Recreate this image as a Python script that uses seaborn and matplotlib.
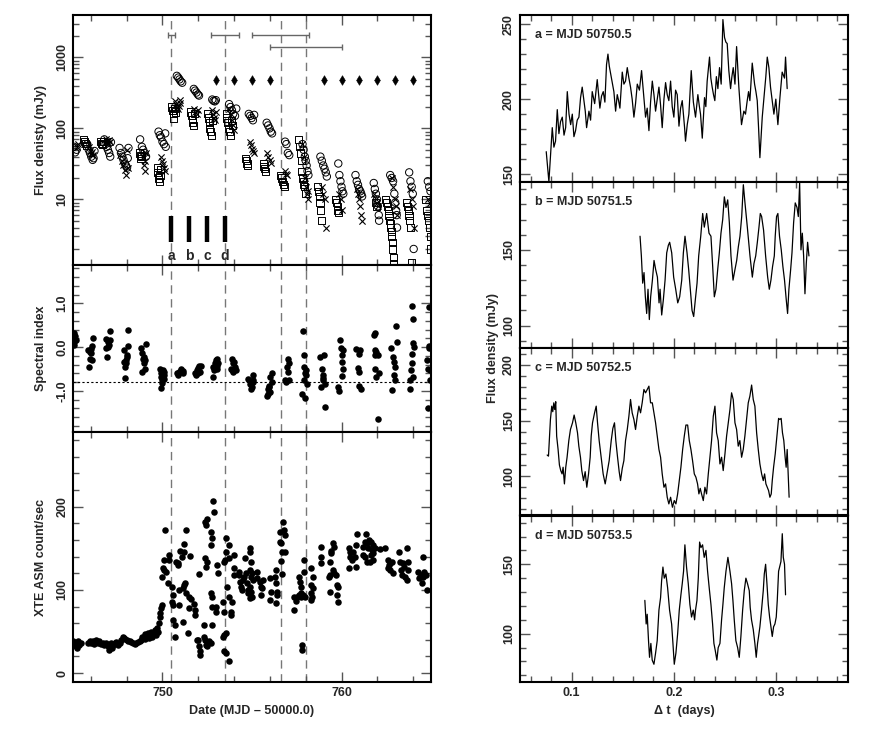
import matplotlib
matplotlib.use('Agg')
import matplotlib.pyplot as plt
import matplotlib.ticker as mticker
import seaborn as sns

# ---------------- data ----------------
# top left: radio flux density, three symbol types
circ_day = [745.05, 745.12, 745.2,
            745.8, 745.88, 745.95, 746.02, 746.1, 746.15, 746.2,
            746.75, 746.82, 746.88, 746.95, 747.02, 747.08, 747.12,
            747.6, 747.68, 747.75, 747.82, 747.9, 747.96, 748.02, 748.06, 748.1,
            748.75, 748.85, 748.92, 749.0, 749.08,
            749.78, 749.85, 749.92, 750.0, 750.08, 750.15, 750.18,
            750.8, 750.88, 750.95, 751.02, 751.1,
            751.75, 751.82, 751.9, 751.98, 752.04,
            752.78, 752.85, 752.92, 752.98,
            753.72, 753.8, 753.88, 753.95, 754.05, 754.12,
            754.82, 754.9, 754.98, 755.05, 755.12,
            755.82, 755.9, 755.98, 756.05, 756.12,
            756.85, 756.92, 757.0, 757.08,
            757.82, 757.88, 757.95, 758.0, 758.05, 758.1, 758.15,
            758.82, 758.9, 758.98, 759.05, 759.12, 759.18,
            759.82, 759.88, 759.94, 760.0, 760.05, 760.1,
            760.78, 760.85, 760.92, 760.98, 761.05, 761.1, 761.15,
            761.8, 761.86, 761.92, 761.98, 762.03, 762.08, 762.1,
            762.72, 762.8, 762.88, 762.95, 763.0, 763.05, 763.08, 763.1,
            763.78, 763.85, 763.92, 763.98, 764.03,
            764.82, 764.9, 764.97]
circ_flux = [55, 46, 50,
             60, 50, 45, 40, 36, 38, 48,
             70, 60, 55, 50, 45, 40, 64,
             53, 45, 40, 36, 32, 30, 28, 38, 53,
             70, 55, 50, 45, 40,
             90, 80, 75, 65, 60, 85, 55,
             550, 520, 490, 460, 440,
             360, 340, 320, 300, 290,
             255, 245, 240, 250,
             220, 200, 180, 160, 150, 190,
             160, 150, 140, 130, 155,
             120, 110, 100, 90, 85,
             65, 60, 45, 42,
             60, 50, 40, 35, 30, 25, 22,
             40, 35, 30, 27, 24, 21,
             32, 22, 18, 15, 13, 12,
             22, 18, 16, 14, 13, 12, 11,
             17, 14, 12, 10, 8, 6, 5,
             22, 20, 18, 12, 9, 7, 6, 4,
             24, 18, 15, 12, 2,
             18, 15, 13]

sq_day = [745.6, 745.65, 745.7, 745.75,
          746.55, 746.6, 746.65, 746.7,
          748.7, 748.75, 748.8, 748.85,
          749.7, 749.74, 749.78, 749.82, 749.86, 749.9,
          750.52, 750.56, 750.6, 750.64, 750.68, 750.72,
          751.58, 751.62, 751.66, 751.7, 751.74, 751.78,
          752.5, 752.55, 752.6, 752.65, 752.7, 752.75, 752.8,
          753.55, 753.6, 753.65, 753.7, 753.75, 753.8, 753.85, 753.9,
          754.62, 754.67, 754.72, 754.77,
          755.62, 755.67, 755.72, 755.77,
          756.62, 756.67, 756.72, 756.77, 756.82,
          757.62, 757.66, 757.7, 757.74, 757.78, 757.82, 757.86, 757.9, 757.94, 757.98,
          758.68, 758.72, 758.76, 758.8, 758.84, 758.88,
          759.65, 759.7, 759.75, 759.8, 759.85,
          761.9, 761.95,
          762.45, 762.5, 762.55, 762.6, 762.65, 762.7, 762.72, 762.75, 762.78,
          762.8, 762.83, 762.86, 762.9, 762.92,
          763.62, 763.67, 763.72, 763.77, 763.82, 763.86, 763.9,
          764.72, 764.77, 764.82, 764.87, 764.92, 764.96, 765.0]
sq_flux = [70, 66, 62, 58,
           65, 62, 60, 66,
           45, 42, 38, 40,
           28, 24, 20, 18, 22, 26,
           200, 180, 160, 140, 190, 170,
           170, 150, 135, 120, 110, 160,
           160, 140, 120, 100, 90, 80, 130,
           160, 140, 120, 100, 90, 80, 130, 110,
           38, 35, 32, 30,
           32, 29, 27, 25,
           22, 20, 18, 16, 15,
           70, 55, 45, 35, 25, 20, 18, 16, 15, 12,
           15, 13, 11, 9, 7, 5,
           10, 9, 8, 7, 6.5,
           9, 8,
           10, 9, 8, 7, 6, 5, 4.5, 4, 3.5,
           3, 2.5, 2, 1.5, 1.25,
           9, 8, 7, 6, 5, 4, 1.3,
           10, 7, 6, 5, 4, 3, 2]

x_day = [745.25, 745.3,
         745.9, 745.95, 746.0, 746.05, 746.1,
         746.85, 746.9, 746.95, 747.0, 747.05,
         747.65, 747.72, 747.8, 747.88, 747.95, 748.02, 748.1,
         748.9, 748.95, 749.0, 749.05, 749.1,
         749.92, 749.98, 750.04, 750.1, 750.16,
         750.7, 750.75, 750.8, 750.85, 750.9, 750.95, 751.0,
         751.75, 751.82, 751.9, 751.98,
         752.78, 752.84, 752.9, 752.95, 753.0,
         753.72, 753.8, 753.88, 753.95, 754.02,
         754.9, 754.95, 755.0, 755.05, 755.1,
         755.85, 755.92, 756.0, 756.08,
         756.82, 756.9, 756.98,
         757.82, 757.88, 757.94, 758.0, 758.05, 758.1, 758.15,
         758.9, 758.98, 759.05, 759.12,
         759.88, 759.95, 760.02,
         760.85, 760.92, 760.98, 761.05, 761.1, 761.15,
         761.82, 761.9, 761.98, 762.05,
         762.82, 762.9, 762.98, 763.05, 763.1,
         763.85, 763.92, 763.98, 764.04,
         764.85, 764.95]
x_flux = [55, 60,
          55, 48, 44, 46, 42,
          70, 66, 62, 68, 64,
          42, 35, 30, 26, 22, 50, 28,
          40, 30, 25, 35, 45,
          40, 35, 32, 28, 25,
          240, 220, 200, 190, 210, 230, 250,
          190, 170, 160, 180,
          180, 160, 140, 130, 170,
          190, 160, 130, 110, 95,
          65, 58, 52, 48, 45,
          45, 40, 36, 33,
          25, 23, 22,
          60, 40, 20, 15, 12, 10, 13,
          15, 12, 10, 4,
          12, 10, 7,
          14, 12, 10, 8, 6, 5,
          12, 10, 9, 8,
          20, 15, 10, 8, 6,
          14, 10, 8, 4,
          10, 9]

diamond_day = [753, 754, 755, 756, 759, 760, 761, 762, 763, 764]
diamond_flux = [480, 480, 480, 480, 480, 480, 480, 480, 480, 480]

# horizontal intervals at top of the flux panel
span_center = [750.5, 753.5, 756.6, 758.0]
span_half = [0.2, 0.8, 1.6, 2.0]
span_flux = [2050, 2050, 2050, 1400]

# epochs a-d of the right hand light curves
epoch_day = [750.5, 751.5, 752.5, 753.5]
epoch_name = ['a', 'b', 'c', 'd']
dash_day = [750.5, 753.5, 756.6, 758.0]

# middle left: spectral index
spec_day = [745.0, 745.05, 745.08, 745.12, 745.03, 745.15, 745.07,
            745.9, 745.93, 745.97, 746.02, 746.05, 746.07, 746.12, 745.99, 745.85,
            746.87, 746.92, 746.95, 747.0, 747.04, 747.08, 746.97, 746.87,
            747.85, 747.89, 747.92, 747.98, 748.01, 748.07, 748.08, 748.03, 747.94, 747.83,
            748.82, 748.86, 748.92, 748.95, 749.01, 749.06, 748.88, 749.03, 748.97,
            749.85, 749.89, 749.94, 749.99, 750.02, 750.06, 750.11, 749.89, 749.96, 750.09,
            750.82, 750.93, 751.01, 751.06, 751.12, 750.88, 751.16,
            751.81, 751.9, 751.99, 752.05, 752.13, 751.87, 752.09, 751.96,
            752.8, 752.84, 752.93, 752.99, 753.06, 753.12, 752.89, 753.02, 753.07,
            753.86, 753.92, 753.99, 754.05, 754.09, 753.83, 753.96, 753.88,
            754.8, 754.9, 754.99, 755.04, 755.07, 754.94, 755.03,
            755.82, 755.88, 755.93, 756.0, 756.1, 756.14, 755.91, 756.03, 755.96,
            756.9, 756.94, 757.0, 757.03, 757.09, 756.85, 757.07,
            757.84, 757.88, 757.93, 757.97, 758.0, 757.8, 757.97, 757.91, 758.06, 758.02,
            758.8, 758.9, 758.95, 758.99, 759.03, 759.09, 759.07, 758.86, 758.95,
            759.83, 759.86, 759.92, 759.97, 760.0, 760.04, 760.06, 760.02, 760.1,
            760.82, 760.9, 760.95, 761.0, 761.08, 761.04, 760.99,
            761.79, 761.89, 761.85, 761.94, 762.01, 761.85, 761.94, 762.07, 762.03, 761.89,
            762.76, 762.87, 762.95, 763.0, 762.91, 762.97, 762.82, 763.04, 763.1,
            763.81, 763.85, 763.88, 763.92, 763.94, 764.0, 764.03, 763.96, 764.0, 763.98,
            764.78, 764.84, 764.87, 764.91, 764.97, 764.87, 764.84, 764.93]
spec_idx = [0.29, 0.21, 0.13, 0.25, 0.05, 0.17, 0.33,
            -0.45, -0.1, -0.26, -0.05, 0.02, -0.29, 0.21, -0.14, -0.06,
            0.19, -0.22, 0.13, 0.05, 0.17, 0.38, 0.0, -0.02,
            -0.06, -0.7, -0.45, -0.29, -0.22, 0.03, 0.4, -0.18, -0.37, -0.33,
            -0.02, -0.14, -0.26, -0.37, -0.49, 0.08, -0.57, -0.29, -0.22,
            -0.5, -0.6, -0.68, -0.76, -0.53, -0.64, -0.57, -0.93, -0.82, -0.72,
            -0.6, -0.57, -0.53, -0.5, -0.59, -0.64, -0.55,
            -0.6, -0.53, -0.47, -0.43, -0.42, -0.64, -0.57, -0.59,
            -0.68, -0.45, -0.37, -0.29, -0.27, -0.37, -0.53, -0.43, -0.49,
            -0.27, -0.37, -0.33, -0.45, -0.53, -0.49, -0.57, -0.53,
            -0.72, -0.84, -0.91, -0.64, -0.76, -0.95, -0.8,
            -1.11, -0.95, -0.88, -1.03, -0.8, -0.6, -1.07, -0.68, -0.91,
            -0.8, -0.45, -0.57, -0.28, -0.37, -0.74, -0.76,
            0.36, -0.18, -0.45, -0.6, -0.53, -1.07, -1.15, -0.76, -0.84, -0.64,
            -0.22, -0.49, -0.64, -0.76, -0.18, -0.84, -1.36, -0.91, -0.71,
            -0.91, -0.99, 0.16, -0.02, -0.18, -0.33, -0.49, -0.66, -0.06,
            -0.05, -0.47, -0.57, -0.88, -0.95, -0.06, -0.16,
            0.29, 0.33, -0.06, -0.1, -0.18, -0.49, -0.68, -0.59, -1.65, -0.18,
            -0.02, -0.22, -0.33, -0.45, -0.64, -0.74, -0.98, 0.48, 0.13,
            -0.76, -0.95, -0.53, -0.37, -0.16, 0.09, 0.0, 0.95, 0.64, -0.67,
            -0.29, -0.49, 0.02, -0.02, -0.74, 0.91, -1.38, -0.53]
spec_ref = -0.8

# bottom left: XTE ASM count rate
xte_day = [745.0, 745.1, 745.15, 745.25, 745.35, 745.45, 745.3,
           745.83, 745.93, 746.02, 746.11, 746.2, 746.3, 746.39, 746.48, 746.57, 746.67,
           746.76, 746.85, 746.95, 747.0, 747.04, 747.13, 747.19, 747.22, 747.32, 747.41,
           747.5, 747.6, 747.69, 747.78, 747.84, 747.93, 748.0, 748.06, 748.16, 748.25,
           748.34, 748.44, 748.53, 748.62, 748.72, 748.81, 748.87, 748.94, 749.0, 749.05,
           749.13, 749.18, 749.24, 749.32, 749.37, 749.43, 749.5, 749.56, 749.62, 749.69,
           749.74, 749.8, 749.84, 749.88, 749.93, 749.95,
           750.15, 750.07, 750.02, 750.1, 750.2, 750.0, 750.34, 750.35, 750.3,
           750.54, 750.57, 750.55, 750.58, 750.6, 750.68, 750.72, 750.77, 750.85, 750.88,
           750.92, 750.93, 751.0, 751.1, 751.2, 751.22, 751.3, 751.12, 751.19, 751.27,
           751.32, 751.14, 751.42, 751.5, 751.58, 751.55, 751.47, 751.75, 751.8, 751.82,
           752.05, 751.9, 752.0, 752.06, 752.1, 752.12, 752.3, 752.32, 752.4, 752.42,
           752.5, 752.6, 752.7, 752.4, 752.48, 752.45, 752.39, 752.5, 752.43, 752.7,
           752.75, 752.72, 752.82, 752.86, 752.73, 752.78, 752.74, 752.79, 752.97, 752.99,
           753.07, 753.09, 753.38, 753.43, 753.39, 753.44, 753.52, 753.42, 753.53, 753.7,
           753.45, 753.5, 753.55, 753.57, 753.7, 753.72, 753.6, 753.71, 753.8, 753.82,
           753.9, 753.98, 753.99, 754.0,
           754.25, 754.3, 754.35, 754.4, 754.45, 754.5, 754.55, 754.6, 754.65, 754.7,
           754.75, 754.8,
           754.87, 754.9, 754.93, 754.87, 754.96, 755.0, 754.88, 754.96, 755.02, 754.91,
           755.06, 755.28, 755.3, 755.47, 755.52, 755.58, 755.62, 755.5,
           756.03, 756.08, 756.03, 756.33, 756.27, 756.36, 756.37, 756.42, 756.36,
           756.55, 756.59, 756.64, 756.74, 756.79, 756.83, 756.7, 756.87, 756.64, 756.68,
           757.35, 757.36, 757.43, 757.61, 757.67, 757.71, 757.73, 757.76, 757.63, 757.54,
           757.89, 757.91, 757.85, 757.95, 757.8, 757.82,
           758.28, 758.41, 758.32, 758.38, 758.28, 758.27, 758.36,
           758.83, 758.84, 758.85, 759.35, 759.39, 759.44, 759.5, 759.57, 759.35, 759.31,
           759.53, 759.57, 759.68, 759.76, 759.81, 759.72, 759.78, 759.35,
           760.43, 760.47, 760.5, 760.56, 760.43, 760.75, 760.8, 760.84, 760.8, 760.66,
           761.21, 761.31, 761.36, 761.4, 761.49, 761.55, 761.62, 761.68, 761.74, 761.77,
           761.21, 761.4, 761.58, 761.77, 761.86, 761.31, 761.64,
           762.15, 762.43,
           762.61, 762.67, 762.7, 762.8, 762.86, 762.7, 762.61,
           763.23, 763.27, 763.3, 763.36, 763.45, 763.49, 763.55, 763.64, 763.68, 763.69,
           763.71,
           764.29, 764.35, 764.44, 764.48, 764.57, 764.61, 764.72, 764.76, 764.53]
xte_cnt = [38, 36, 32, 30, 34, 36, 38,
           36, 38, 36, 38, 35, 40, 36, 38, 35, 36,
           34, 36, 32, 28, 34, 36, 30, 34, 36, 37,
           34, 36, 40, 44, 42, 41, 40, 38, 38, 37,
           36, 35, 36, 37, 38, 40, 44, 42, 47, 41,
           44, 48, 42, 46, 50, 44, 48, 52, 46, 54,
           50, 60, 68, 72, 78, 82,
           172, 136, 126, 124, 122, 116, 142, 136, 108,
           104, 94, 86, 82, 64, 58, 44, 134, 132, 130,
           100, 82, 147, 140, 145, 155, 172, 102, 106, 108,
           96, 61, 48, 91, 89, 141, 78, 83, 76, 70,
           119, 40, 40, 32, 26, 22, 58, 44, 40, 34,
           32, 38, 36, 182, 185, 178, 138, 134, 128, 169,
           162, 154, 207, 194, 96, 91, 79, 58, 79, 74,
           130, 120, 85, 74, 44, 46, 48, 26, 24, 14,
           134, 136, 162, 146, 154, 138, 104, 92, 74, 70,
           86, 142, 126, 118,
           118, 122, 110, 104, 100, 112, 116, 138, 120, 108,
           100, 96,
           150, 146, 134, 124, 116, 120, 104, 98, 92, 90,
           112, 122, 114, 110, 104, 102, 112, 94,
           114, 98, 88, 124, 116, 108, 98, 94, 84,
           170, 158, 156, 182, 172, 166, 146, 146, 135, 119,
           92, 76, 87, 116, 110, 104, 96, 92, 94, 92,
           136, 122, 94, 92, 34, 28,
           126, 116, 106, 102, 96, 88, 92,
           152, 139, 132, 134, 147, 144, 156, 152, 118, 116,
           124, 120, 118, 106, 103, 94, 86, 97,
           150, 145, 140, 136, 126, 140, 154, 167, 128, 146,
           152, 158, 167, 156, 150, 160, 157, 148, 144, 154,
           142, 134, 134, 136, 150, 140, 142,
           149, 150,
           136, 130, 124, 134, 120, 132, 126,
           146, 134, 124, 118, 132, 127, 116, 112, 150, 134,
           124,
           122, 114, 118, 108, 140, 122, 118, 100, 116]

# right: intraday light curves at epochs a-d
a_dt = [0.0751, 0.0777, 0.0810, 0.0826, 0.0842, 0.0859, 0.0875, 0.0891, 0.0908, 0.0925,
        0.0941, 0.0957, 0.0974, 0.0990, 0.1006, 0.1022, 0.1038, 0.1054, 0.1071, 0.1087,
        0.1103, 0.1120, 0.1133, 0.1146, 0.1169, 0.1185, 0.1201, 0.1225, 0.1250, 0.1276,
        0.1292, 0.1309, 0.1325, 0.1341, 0.1355, 0.1368, 0.1381, 0.1397, 0.1413, 0.1430,
        0.1446, 0.1459, 0.1472, 0.1495, 0.1511, 0.1527, 0.1544, 0.1560, 0.1576, 0.1592,
        0.1609, 0.1625, 0.1642, 0.1663, 0.1684, 0.1707, 0.1723, 0.1739, 0.1756, 0.1772,
        0.1789, 0.1805, 0.1821, 0.1837, 0.1854, 0.1870, 0.1886, 0.1903, 0.1919, 0.1935,
        0.1951, 0.1968, 0.1984, 0.2000, 0.2017, 0.2033, 0.2050, 0.2066, 0.2082, 0.2105,
        0.2114, 0.2131, 0.2147, 0.2170, 0.2191, 0.2212, 0.2235, 0.2248, 0.2261, 0.2278,
        0.2300, 0.2313, 0.2326, 0.2349, 0.2362, 0.2375, 0.2388, 0.2401, 0.2416, 0.2431,
        0.2447, 0.2463, 0.2480, 0.2496, 0.2509, 0.2522, 0.2538, 0.2555, 0.2568, 0.2581,
        0.2598, 0.2614, 0.2636, 0.2653, 0.2662, 0.2685, 0.2701, 0.2718, 0.2731, 0.2744,
        0.2767, 0.2790, 0.2803, 0.2816, 0.2829, 0.2842, 0.2865, 0.2887, 0.2900, 0.2914,
        0.2930, 0.2946, 0.2962, 0.2979, 0.2998, 0.3018, 0.3038, 0.3060, 0.3083, 0.3093,
        0.3109]
a_flux = [165, 145, 181, 168, 172, 193, 177, 185, 188, 176,
          181, 205, 190, 183, 190, 175, 179, 186, 188, 201,
          208, 199, 192, 181, 192, 186, 205, 197, 213, 194,
          202, 205, 198, 223, 230, 222, 217, 211, 205, 192,
          203, 199, 194, 218, 210, 212, 221, 214, 208, 200,
          188, 197, 210, 206, 219, 201, 188, 194, 179, 198,
          212, 203, 192, 200, 208, 196, 181, 200, 211, 203,
          199, 212, 195, 188, 206, 203, 182, 194, 199, 181,
          172, 183, 190, 219, 198, 188, 203, 196, 190, 174,
          201, 195, 212, 228, 214, 208, 203, 199, 215, 207,
          221, 210, 253, 241, 238, 237, 219, 207, 215, 221,
          210, 235, 208, 192, 183, 192, 190, 199, 205, 199,
          224, 210, 205, 199, 181, 161, 188, 205, 215, 228,
          221, 208, 199, 190, 200, 183, 201, 218, 214, 228,
          207]

b_dt = [0.1669, 0.1682, 0.1695, 0.1708, 0.1721, 0.1734, 0.1747, 0.1760, 0.1773, 0.1790,
        0.1806, 0.1822, 0.1839, 0.1855, 0.1865, 0.1881, 0.1897, 0.1914, 0.1930, 0.1946,
        0.1959, 0.1979, 0.1998, 0.2018, 0.2038, 0.2057, 0.2077, 0.2093, 0.2109, 0.2129,
        0.2145, 0.2161, 0.2178, 0.2194, 0.2210, 0.2227, 0.2243, 0.2263, 0.2282, 0.2298,
        0.2321, 0.2344, 0.2363, 0.2380, 0.2396, 0.2412, 0.2429, 0.2445, 0.2461, 0.2478,
        0.2494, 0.2510, 0.2527, 0.2543, 0.2559, 0.2579, 0.2598, 0.2615, 0.2631, 0.2647,
        0.2664, 0.2680, 0.2696, 0.2719, 0.2745, 0.2768, 0.2784, 0.2801, 0.2817, 0.2833,
        0.2846, 0.2859, 0.2878, 0.2898, 0.2918, 0.2934, 0.2950, 0.2966, 0.2983, 0.2992,
        0.3005, 0.3018, 0.3034, 0.3051, 0.3067, 0.3083, 0.3100, 0.3113, 0.3126, 0.3143,
        0.3156, 0.3172, 0.3188, 0.3205, 0.3218, 0.3231, 0.3244, 0.3257, 0.3270, 0.3283,
        0.3296, 0.3309, 0.3322]
b_flux = [159, 146, 128, 135, 119, 108, 124, 104, 119, 130,
          143, 137, 132, 115, 124, 107, 117, 130, 148, 153,
          155, 148, 132, 124, 115, 119, 130, 148, 159, 148,
          137, 124, 110, 106, 117, 128, 146, 159, 174, 165,
          174, 161, 159, 139, 119, 124, 137, 148, 161, 170,
          185, 178, 183, 168, 146, 130, 137, 143, 152, 159,
          172, 193, 181, 165, 146, 132, 141, 146, 155, 165,
          174, 172, 163, 146, 132, 124, 130, 139, 146, 159,
          172, 174, 159, 150, 139, 130, 117, 108, 124, 137,
          148, 168, 181, 178, 172, 194, 150, 161, 146, 121,
          141, 155, 146]

c_dt = [0.0760, 0.0773, 0.0782, 0.0792, 0.0805, 0.0815, 0.0825, 0.0834, 0.0844, 0.0853,
        0.0867, 0.0880, 0.0893, 0.0906, 0.0916, 0.0929, 0.0942, 0.0955, 0.0972, 0.0988,
        0.1008, 0.1024, 0.1040, 0.1057, 0.1070, 0.1086, 0.1099, 0.1116, 0.1132, 0.1148,
        0.1165, 0.1181, 0.1191, 0.1204, 0.1224, 0.1240, 0.1253, 0.1269, 0.1289, 0.1308,
        0.1328, 0.1348, 0.1367, 0.1387, 0.1403, 0.1419, 0.1432, 0.1449, 0.1465, 0.1478,
        0.1495, 0.1511, 0.1527, 0.1544, 0.1560, 0.1576, 0.1592, 0.1609, 0.1625, 0.1642,
        0.1658, 0.1674, 0.1690, 0.1707, 0.1723, 0.1739, 0.1756, 0.1772, 0.1789, 0.1805,
        0.1821, 0.1837, 0.1854, 0.1870, 0.1886, 0.1903, 0.1919, 0.1935, 0.1951, 0.1968,
        0.1986, 0.2004, 0.2020, 0.2037, 0.2053, 0.2069, 0.2086, 0.2102, 0.2118, 0.2135,
        0.2151, 0.2167, 0.2183, 0.2200, 0.2216, 0.2232, 0.2245, 0.2258, 0.2271, 0.2288,
        0.2304, 0.2320, 0.2337, 0.2353, 0.2369, 0.2386, 0.2402, 0.2418, 0.2434, 0.2451,
        0.2467, 0.2483, 0.2500, 0.2516, 0.2532, 0.2549, 0.2565, 0.2581, 0.2598, 0.2614,
        0.2630, 0.2646, 0.2663, 0.2679, 0.2695, 0.2712, 0.2728, 0.2744, 0.2761, 0.2777,
        0.2793, 0.2810, 0.2826, 0.2842, 0.2859, 0.2875, 0.2888, 0.2901, 0.2914, 0.2927,
        0.2940, 0.2953, 0.2963, 0.2976]
c_flux = [119, 118, 134, 151, 163, 158, 166, 160, 167, 136,
          124, 110, 105, 102, 108, 93, 108, 117, 132, 142,
          148, 155, 148, 139, 127, 117, 105, 96, 104, 90,
          102, 117, 136, 148, 157, 163, 148, 132, 117, 102,
          93, 104, 114, 132, 143, 148, 132, 117, 104, 96,
          107, 114, 132, 142, 154, 169, 157, 151, 142, 154,
          163, 157, 166, 178, 175, 178, 181, 166, 166, 157,
          148, 136, 124, 117, 102, 90, 93, 81, 75, 81,
          72, 78, 75, 84, 96, 108, 124, 136, 146, 146,
          132, 124, 114, 102, 99, 93, 84, 89, 84, 78,
          90, 84, 102, 117, 132, 154, 163, 139, 132, 111,
          117, 105, 120, 136, 148, 160, 175, 169, 148, 142,
          127, 132, 117, 124, 136, 151, 166, 172, 182, 169,
          163, 139, 124, 111, 102, 96, 102, 93, 90, 87,
          81, 84, 96, 108]
c_dt += [0.2992, 0.3008, 0.3025, 0.3037, 0.3050, 0.3063, 0.3076, 0.3089, 0.3099, 0.3109,
         0.3128]
c_flux += [120, 136, 152, 151, 152, 139, 132, 117, 108, 124, 81]

d_dt = [0.1716, 0.1729, 0.1739, 0.1752, 0.1762, 0.1775, 0.1788, 0.1805, 0.1821, 0.1837,
        0.1854, 0.1870, 0.1880, 0.1893, 0.1906, 0.1922, 0.1939, 0.1958, 0.1978, 0.1991,
        0.2004, 0.2020, 0.2037, 0.2053, 0.2069, 0.2082, 0.2095, 0.2108, 0.2124, 0.2141,
        0.2157, 0.2173, 0.2190, 0.2203, 0.2212, 0.2226, 0.2239, 0.2252, 0.2265, 0.2281,
        0.2297, 0.2314, 0.2330, 0.2346, 0.2363, 0.2379, 0.2392, 0.2405, 0.2421, 0.2434,
        0.2451, 0.2467, 0.2480, 0.2493, 0.2510, 0.2529, 0.2549, 0.2565, 0.2578, 0.2591,
        0.2607, 0.2624, 0.2640, 0.2656, 0.2673, 0.2689, 0.2705, 0.2721, 0.2738, 0.2747,
        0.2760, 0.2777, 0.2793, 0.2806, 0.2819, 0.2829, 0.2842, 0.2858, 0.2875, 0.2885,
        0.2898, 0.2911, 0.2924, 0.2937, 0.2950, 0.2963, 0.2976, 0.2989, 0.3002, 0.3012,
        0.3025, 0.3035, 0.3048, 0.3061, 0.3071, 0.3083, 0.3093]
d_flux = [124, 107, 114, 95, 83, 93, 81, 78, 86, 95,
          117, 126, 138, 148, 140, 143, 133, 117, 107, 93,
          78, 86, 100, 117, 128, 136, 145, 164, 148, 136,
          121, 112, 117, 110, 117, 124, 140, 166, 162, 164,
          155, 160, 145, 133, 121, 107, 93, 88, 81, 90,
          93, 110, 121, 133, 145, 155, 145, 136, 124, 110,
          95, 90, 83, 98, 117, 131, 140, 136, 131, 119,
          110, 103, 93, 83, 93, 98, 105, 117, 131, 143,
          150, 136, 121, 112, 105, 98, 105, 107, 112, 124,
          145, 148, 152, 172, 155, 150, 128]

panel_names = ['a = MJD 50750.5', 'b = MJD 50751.5', 'c = MJD 50752.5', 'd = MJD 50753.5']
panel_ylim = [(145, 256), (85, 195), (65, 215), (65, 185)]
panel_yticks = [[150, 200, 250], [100, 150], [100, 150, 200], [100, 150]]

# ---------------- style ----------------
sns.set_style('ticks')
plt.rcParams['font.family'] = ['Liberation Sans', 'DejaVu Sans']
plt.rcParams['font.weight'] = 'bold'
plt.rcParams['axes.labelweight'] = 'bold'
plt.rcParams['axes.linewidth'] = 1.5

TICK_COLOR = '#555555'
DASH_COLOR = '#777777'
FS = 9


def dress(ax, xmaj, xmin, ymaj=None, ymin=None):
    ax.tick_params(which='both', direction='in', top=True, right=True,
                   color=TICK_COLOR, labelsize=FS)
    ax.tick_params(which='major', length=7, width=1)
    ax.tick_params(which='minor', length=4, width=1)
    ax.tick_params(axis='y', labelrotation=90)
    ax.xaxis.set_major_locator(mticker.MultipleLocator(xmaj))
    ax.xaxis.set_minor_locator(mticker.MultipleLocator(xmin))
    if ymaj is not None:
        ax.yaxis.set_major_locator(mticker.MultipleLocator(ymaj))
        ax.yaxis.set_minor_locator(mticker.MultipleLocator(ymin))
    for s in ax.spines.values():
        s.set_linewidth(1.5)
        s.set_color('black')


fig = plt.figure(figsize=(8.72, 7.35), dpi=100)

L, W = 0.0837, 0.4106
ax_flux = fig.add_axes([L, 0.6395, W, 0.3400])
ax_spec = fig.add_axes([L, 0.4127, W, 0.2268], sharex=ax_flux)
ax_xte = fig.add_axes([L, 0.0717, W, 0.3410], sharex=ax_flux)

R, RW = 0.5963, 0.3765
right_bottoms = [0.7528, 0.5261, 0.2993, 0.0717]
right_axes = [fig.add_axes([R, b, RW, 0.2267]) for b in right_bottoms]

# ---- flux density panel ----
ax = ax_flux
sns.scatterplot(x=circ_day, y=circ_flux, marker='o', s=28, facecolors='none',
                edgecolor='black', linewidth=0.7, ax=ax)
sns.scatterplot(x=sq_day, y=sq_flux, marker='s', s=26, facecolors='none',
                edgecolor='black', linewidth=0.7, ax=ax)
sns.scatterplot(x=x_day, y=x_flux, marker='x', s=20, color='black',
                linewidth=0.8, ax=ax)
sns.scatterplot(x=diamond_day, y=diamond_flux, marker='d', s=24, color='black',
                edgecolor='black', ax=ax)
ax.errorbar(span_center, span_flux, xerr=span_half, fmt='none', ecolor='#666666',
            elinewidth=1, capsize=2.5, capthick=1)
ax.vlines(epoch_day, 2.5, 5.8, colors='black', linewidth=3.2)
for d, n in zip(epoch_day, epoch_name):
    ax.text(d, 1.58, n, ha='center', va='center', fontsize=FS + 1, fontweight='bold')
ax.set_yscale('log')
ax.set_ylim(1.19, 3950)
ax.set_xlim(745.0, 765.0)
dress(ax, 10, 2)
ax.yaxis.set_major_locator(mticker.FixedLocator([10, 100, 1000]))
ax.yaxis.set_minor_locator(mticker.LogLocator(base=10, subs=range(2, 10), numticks=20))
ax.yaxis.set_major_formatter(mticker.FuncFormatter(lambda v, p: f'{int(v)}'))
ax.yaxis.set_minor_formatter(mticker.NullFormatter())
ax.set_ylabel('Flux denisty (mJy)', fontsize=FS)
ax.tick_params(axis='x', labelbottom=False)

# ---- spectral index panel ----
ax = ax_spec
sns.scatterplot(x=spec_day, y=spec_idx, marker='o', s=22, color='black',
                edgecolor='black', linewidth=0, ax=ax)
ax.axhline(spec_ref, color='black', linestyle=(0, (2, 2)), linewidth=0.8)
ax.set_ylim(-1.93, 1.88)
dress(ax, 10, 2, 1.0, 0.2)
ax.yaxis.set_major_formatter(mticker.FormatStrFormatter('%.1f'))
ax.set_ylabel('Spectral index', fontsize=FS)
ax.tick_params(axis='x', labelbottom=False)

# ---- XTE ASM panel ----
ax = ax_xte
sns.scatterplot(x=xte_day, y=xte_cnt, marker='o', s=22, color='black',
                edgecolor='black', linewidth=0, ax=ax)
ax.set_ylim(-11, 290)
dress(ax, 10, 2, 100, 20)
ax.set_ylabel('XTE ASM count/sec', fontsize=FS)
ax.set_xlabel('Date (MJD \u2013 50000.0)', fontsize=FS)
ax.set_xlim(745.0, 765.0)

for ax in (ax_flux, ax_spec, ax_xte):
    for d in dash_day:
        ax.axvline(d, color=DASH_COLOR, linestyle=(0, (6, 4)), linewidth=1.0, zorder=0)
    ax.yaxis.set_label_coords(-0.073, 0.5)

# ---- intraday light curves ----
curves = [(a_dt, a_flux), (b_dt, b_flux), (c_dt, c_flux), (d_dt, d_flux)]
for i, ax in enumerate(right_axes):
    t, f = curves[i]
    sns.lineplot(x=t, y=f, color='black', linewidth=0.9, estimator=None,
                 sort=False, ax=ax)
    ax.set_xlim(0.0494, 0.3707)
    ax.set_ylim(*panel_ylim[i])
    dress(ax, 0.1, 0.02, 50, 10)
    ax.yaxis.set_major_locator(mticker.FixedLocator(panel_yticks[i]))
    ax.text(0.046, 0.88, panel_names[i], transform=ax.transAxes, ha='left',
            va='center', fontsize=FS, fontweight='bold')
    if i < 3:
        ax.tick_params(axis='x', labelbottom=False)
    else:
        ax.xaxis.set_major_formatter(mticker.FormatStrFormatter('%.1f'))
        ax.set_xlabel('\u0394 t  (days)', fontsize=FS)

fig.text(0.565, 0.526, 'Flux density (mJy)', rotation=90, ha='center',
         va='center', fontsize=FS, fontweight='bold')

for ax in [ax_flux, ax_spec, ax_xte] + right_axes:
    for lbl in ax.get_yticklabels():
        lbl.set_va('center')

fig.savefig('out.png', dpi=100)
